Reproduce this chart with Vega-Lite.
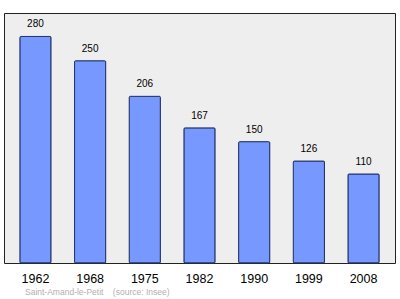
{
  "$schema": "https://vega.github.io/schema/vega-lite/v6.json",
  "width": 391,
  "height": 250,
  "autosize": "none",
  "padding": {"left": 4, "top": 13, "right": 5, "bottom": 36},
  "background": "white",
  "config": {
    "view": {"fill": "#eeeeee", "stroke": "#222222", "strokeWidth": 1},
    "font": "Liberation Sans"
  },
  "title": {
    "text": "Saint-Amand-le-Petit\u00a0\u00a0\u00a0\u00a0(source: Insee)",
    "orient": "bottom",
    "anchor": "start",
    "fontSize": 8.5,
    "fontWeight": "normal",
    "color": "#b0b0b0",
    "font": "Liberation Sans",
    "dx": 21,
    "offset": 3
  },
  "data": {
    "values": [
      {"year": "1962", "pop": 280},
      {"year": "1968", "pop": 250},
      {"year": "1975", "pop": 206},
      {"year": "1982", "pop": 167},
      {"year": "1990", "pop": 150},
      {"year": "1999", "pop": 126},
      {"year": "2008", "pop": 110}
    ]
  },
  "encoding": {
    "x": {
      "field": "year",
      "type": "ordinal",
      "scale": {"paddingInner": 0.43, "paddingOuter": 0.29},
      "axis": {
        "title": null,
        "labelAngle": 0,
        "labelFontSize": 12.5,
        "labelColor": "#000000",
        "labelPadding": 9,
        "ticks": false,
        "domain": false
      }
    },
    "y": {
      "field": "pop",
      "type": "quantitative",
      "scale": {"domain": [0, 309], "nice": false},
      "axis": null
    }
  },
  "layer": [
    {
      "mark": {"type": "bar", "fill": "#7799ff", "stroke": "#223366", "strokeWidth": 1, "cornerRadius": 1}
    },
    {
      "mark": {"type": "text", "dy": -12, "fontSize": 10, "color": "#000000"},
      "encoding": {"text": {"field": "pop", "type": "quantitative"}}
    }
  ]
}
